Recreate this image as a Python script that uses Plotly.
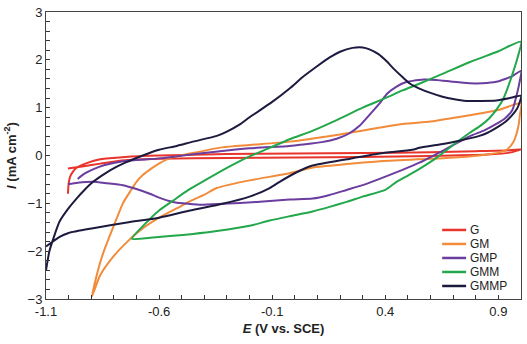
import plotly.graph_objects as go

# ---- data (E in V vs. SCE, I in mA cm^-2), forward then reverse scan ----
G_E = [-1.003, -1.0, -0.994, -0.98, -0.963, -0.92, -0.86, -0.75, -0.6, -0.3, 0.0, 0.3, 0.6, 0.8, 0.95, 1.0,
       0.95, 0.85, 0.6, 0.3, 0.0, -0.3, -0.6, -0.75, -0.86, -0.94, -1.003]
G_I = [-0.8, -0.6, -0.45, -0.33, -0.25, -0.16, -0.08, -0.03, 0.0, 0.03, 0.04, 0.05, 0.07, 0.09, 0.11, 0.13,
       0.06, 0.02, -0.01, -0.03, -0.04, -0.05, -0.07, -0.1, -0.17, -0.23, -0.27]

GM_E = [-0.897, -0.87, -0.848, -0.82, -0.787, -0.76, -0.729, -0.70, -0.672, -0.63, -0.597, -0.55, -0.464, -0.32,
        -0.2, -0.023, 0.185, 0.476, 0.6, 0.772, 0.9, 1.0,
        0.995, 0.99, 0.98, 0.965, 0.94, 0.90, 0.85, 0.77, 0.6, 0.375, 0.23, 0.08, -0.023, -0.2, -0.345, -0.4,
        -0.46, -0.52, -0.6, -0.68, -0.74, -0.80, -0.86, -0.897]
GM_I = [-2.95, -2.4, -2.05, -1.7, -1.31, -1.0, -0.76, -0.55, -0.41, -0.26, -0.16, -0.05, 0.04, 0.17,
        0.22, 0.29, 0.43, 0.66, 0.71, 0.84, 0.95, 1.09,
        0.85, 0.65, 0.45, 0.27, 0.13, 0.06, 0.02, -0.02, -0.07, -0.12, -0.18, -0.25, -0.37, -0.52, -0.68, -0.82,
        -0.95, -1.1, -1.3, -1.55, -1.8, -2.1, -2.5, -2.95]

GMP_E = [-0.96, -0.93, -0.892, -0.84, -0.76, -0.6, -0.495, -0.35, -0.2, -0.023, 0.035, 0.12, 0.185, 0.24, 0.286,
         0.33, 0.375, 0.41, 0.45, 0.49, 0.52, 0.57, 0.626, 0.7, 0.772, 0.83, 0.891, 0.93, 0.962, 1.0,
         0.99, 0.98, 0.962, 0.93, 0.891, 0.84, 0.772, 0.697, 0.626, 0.551, 0.476, 0.375, 0.3, 0.229, 0.15, 0.079,
         -0.023, -0.168, -0.319, -0.42, -0.495, -0.539, -0.6, -0.641, -0.70, -0.76, -0.83, -0.892, -0.96, -1.003]
GMP_I = [-0.49, -0.38, -0.29, -0.2, -0.12, -0.06, 0.0, 0.08, 0.15, 0.2, 0.23, 0.28, 0.35, 0.46, 0.62,
         0.85, 1.09, 1.30, 1.44, 1.53, 1.56, 1.59, 1.58, 1.54, 1.51, 1.51, 1.54, 1.60, 1.66, 1.77,
         1.45, 1.25, 0.95, 0.78, 0.66, 0.53, 0.40, 0.21, 0.03, -0.15, -0.3, -0.49, -0.62, -0.72, -0.83, -0.90,
         -0.92, -0.97, -1.01, -1.03, -1.0, -0.97, -0.88, -0.80, -0.7, -0.62, -0.58, -0.55, -0.57, -0.6]

GMM_E = [-0.72, -0.66, -0.6, -0.54, -0.47, -0.39, -0.3, -0.2, -0.111, -0.023, 0.08, 0.185, 0.3, 0.4, 0.476,
         0.55, 0.65, 0.772, 0.9, 1.0,
         0.985, 0.962, 0.94, 0.918, 0.89, 0.86, 0.82, 0.772, 0.7, 0.626, 0.551, 0.5, 0.45, 0.4, 0.3, 0.229, 0.15,
         0.079, -0.023, -0.111, -0.2, -0.345, -0.45, -0.539, -0.64, -0.72]
GMM_I = [-1.74, -1.42, -1.15, -0.95, -0.72, -0.5, -0.26, -0.02, 0.16, 0.34, 0.52, 0.74, 1.0, 1.2, 1.36,
         1.5, 1.7, 1.95, 2.18, 2.38,
         2.05, 1.70, 1.4, 1.15, 0.95, 0.78, 0.62, 0.47, 0.22, -0.05, -0.28, -0.42, -0.55, -0.72, -0.86, -0.97, -1.08,
         -1.17, -1.27, -1.36, -1.47, -1.58, -1.64, -1.68, -1.72, -1.74]

GMMP_E = [-1.1, -1.085, -1.065, -1.04, -1.0, -0.965, -0.93, -0.892, -0.85, -0.817, -0.75, -0.672, -0.6, -0.522,
          -0.45, -0.345, -0.30, -0.243, -0.2, -0.1, -0.023, 0.035, 0.1, 0.154, 0.2, 0.255, 0.30, 0.33, 0.37,
          0.406, 0.44, 0.476, 0.51, 0.551, 0.6, 0.653, 0.70, 0.759, 0.82, 0.891, 0.95, 1.0,
          0.985, 0.962, 0.93, 0.905, 0.85, 0.816, 0.728, 0.64, 0.551, 0.52, 0.375, 0.229, 0.079, 0.008, -0.067,
          -0.111, -0.2, -0.319, -0.464, -0.6, -0.742, -0.892, -1.0, -1.04, -1.07, -1.1]
GMMP_I = [-2.4, -2.0, -1.7, -1.38, -1.1, -0.9, -0.72, -0.55, -0.41, -0.31, -0.15, 0.0, 0.12, 0.2,
          0.29, 0.41, 0.50, 0.65, 0.8, 1.12, 1.40, 1.64, 1.87, 2.05, 2.17, 2.25, 2.26, 2.22, 2.12,
          1.97, 1.80, 1.64, 1.50, 1.40, 1.31, 1.23, 1.18, 1.14, 1.14, 1.15, 1.2, 1.25,
          1.0, 0.85, 0.7, 0.62, 0.47, 0.41, 0.31, 0.23, 0.16, 0.12, 0.04, -0.08, -0.21, -0.35, -0.55,
          -0.68, -0.86, -1.01, -1.15, -1.3, -1.40, -1.52, -1.62, -1.7, -1.8, -1.9]

SERIES = ["G", "GM", "GMP", "GMM", "GMMP"]
COLORS = ["#e8342b", "#f28b3a", "#6a3d9e", "#22a74b", "#1c1b3f"]
DATA = [(G_E, G_I), (GM_E, GM_I), (GMP_E, GMP_I), (GMM_E, GMM_I), (GMMP_E, GMMP_I)]

X_TICKS = [-1.1, -0.6, -0.1, 0.4, 0.9]
X_LABELS = ["-1.1", "-0.6", "-0.1", "0.4", "0.9"]
Y_TICKS = [-3, -2, -1, 0, 1, 2, 3]

W, H = 527, 344
ML, MR, MT, MB = 46, 5, 8, 45
PW, PH = W - ML - MR, H - MT - MB

fig = go.Figure()
for name, color, (e, i) in zip(SERIES, COLORS, DATA):
    fig.add_trace(go.Scatter(x=e, y=i, mode="lines", name=name, showlegend=False,
                             line=dict(color=color, width=2, shape="spline", smoothing=0.6)))

# compact legend (bottom right, inside plot area)
shapes, annotations = [], []
for k, (name, color) in enumerate(zip(SERIES, COLORS)):
    py = 229 + 14.2 * k
    yp = (H - MB - py) / PH
    shapes.append(dict(type="line", xref="paper", yref="paper",
                       x0=(443 - ML) / PW, x1=(467 - ML) / PW, y0=yp, y1=yp,
                       line=dict(color=color, width=2.5)))
    annotations.append(dict(text=name, xref="paper", yref="paper", x=(469 - ML) / PW, y=yp,
                            xanchor="left", yanchor="middle", showarrow=False,
                            font=dict(size=12, color="#222")))

font_family = "Liberation Sans, Arial, sans-serif"
fig.update_layout(
    width=W, height=H,
    margin=dict(l=ML, r=MR, t=MT, b=MB),
    paper_bgcolor="white", plot_bgcolor="white",
    font=dict(family=font_family, size=13, color="#222"),
    showlegend=False,
    shapes=shapes, annotations=annotations,
)
fig.update_xaxes(
    range=[-1.1, 1.0], tickvals=X_TICKS, ticktext=X_LABELS,
    ticks="inside", ticklen=4, tickcolor="#333",
    minor=dict(dtick=0.1, tick0=-1.1, ticks="inside", ticklen=4, tickcolor="#333", showgrid=False),
    showgrid=False, zeroline=False, showline=True, linecolor="#444", linewidth=1, mirror=True,
    title=dict(text="<b><i>E</i> (V vs. SCE)</b>", font=dict(size=13), standoff=6),
)
fig.update_yaxes(
    range=[-3, 3.0001], tickvals=Y_TICKS,
    ticks="inside", ticklen=4, tickcolor="#333",
    minor=dict(dtick=0.2, tick0=-3, ticks="inside", ticklen=4, tickcolor="#333", showgrid=False),
    showgrid=False, zeroline=False, showline=True, linecolor="#444", linewidth=1, mirror=True,
    title=dict(text="<b><i>I</i> (mA cm<sup>-2</sup>)</b>", font=dict(size=13), standoff=8),
)

fig.write_html("out.html")
